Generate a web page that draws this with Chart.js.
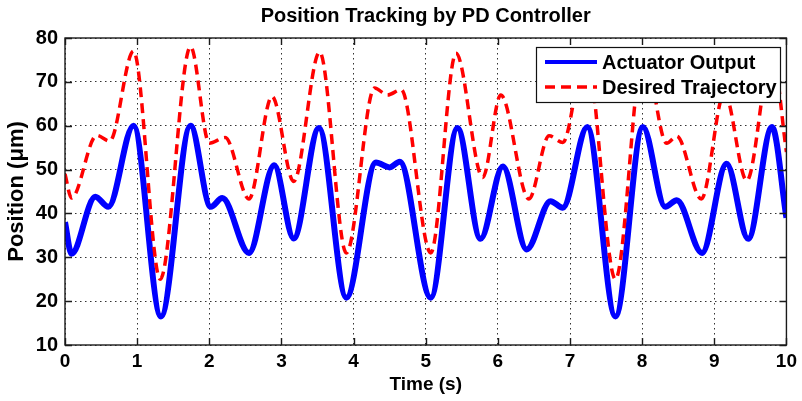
<!DOCTYPE html>
<html>
<head>
<meta charset="utf-8">
<title>Position Tracking by PD Controller</title>
<script src="https://cdn.jsdelivr.net/npm/chart.js@4.4.1/dist/chart.umd.min.js"></script>
<style>
  html, body { margin: 0; padding: 0; background: #fff; }
  #wrap { width: 802px; height: 401px; position: relative; }
</style>
</head>
<body>
<div id="wrap"><canvas id="trackChart"></canvas></div>
<script>
// ── Data ─────────────────────────────────────────────────────
const xTicks = [0, 1, 2, 3, 4, 5, 6, 7, 8, 9, 10];
const yTicks = [10, 20, 30, 40, 50, 60, 70, 80];

// Actuator output: turning points of the measured response
const actTime = [0.00, 0.09, 0.42, 0.60, 0.95, 1.33, 1.74, 2.02, 2.18, 2.55,
                 2.90, 3.17, 3.52, 3.90, 4.31, 4.50, 4.64, 5.07, 5.44, 5.76,
                 6.07, 6.40, 6.73, 6.90, 7.24, 7.63, 8.01, 8.32, 8.48, 8.83,
                 9.17, 9.47, 9.80, 10.00];
const actPos  = [38.0, 30.8, 43.8, 41.5, 60.0, 16.5, 60.0, 41.5, 43.5, 31.0,
                 51.0, 34.3, 59.5, 20.8, 51.6, 50.5, 51.8, 20.8, 59.5, 34.2,
                 50.7, 31.8, 42.8, 41.3, 59.7, 16.5, 59.7, 41.5, 43.0, 31.0,
                 51.3, 34.2, 59.7, 39.0];

// Desired trajectory: turning points of the reference signal
const desTime = [0.00, 0.09, 0.44, 0.62, 0.95, 1.32, 1.74, 2.00, 2.22, 2.55,
                 2.87, 3.17, 3.53, 3.90, 4.29, 4.47, 4.66, 5.07, 5.42, 5.79,
                 6.04, 6.43, 6.71, 6.90, 7.22, 7.63, 8.02, 8.34, 8.48, 8.82,
                 9.14, 9.45, 9.80, 10.00];
const desPos  = [49.0, 43.5, 57.8, 56.5, 77.0, 25.0, 78.0, 56.0, 57.3, 43.3,
                 66.7, 47.3, 76.8, 31.0, 68.6, 67.0, 68.2, 31.0, 76.5, 48.2,
                 67.0, 43.3, 57.7, 56.2, 77.0, 25.0, 77.0, 56.0, 57.6, 43.3,
                 67.5, 47.5, 76.5, 54.0];

const seriesLabels = ['Actuator Output', 'Desired Trajectory'];

// ── Helpers ──────────────────────────────────────────────────
function toPoints(xs, ys) {
    return xs.map((x, i) => ({ x: x, y: ys[i] }));
}

const FONT = '"Liberation Sans", Arial, Helvetica, sans-serif';

// Box frame, inward tick marks and the boxed legend (MATLAB style)
const matlabFrame = {
    id: 'matlabFrame',
    afterLayout(chart) {
        // centre the title over the axes, not the whole canvas
        const t = chart.titleBlock, a = chart.chartArea;
        if (t) { t.left = a.left; t.right = a.right; t.width = a.right - a.left; }
    },
    afterDraw(chart) {
        const { ctx, chartArea: a, scales } = chart;
        const tl = 7;
        ctx.save();
        ctx.strokeStyle = '#1a1a1a';
        ctx.lineWidth = 1.4;

        ctx.beginPath();
        xTicks.forEach(v => {
            const px = Math.round(scales.x.getPixelForValue(v)) + 0.5;
            ctx.moveTo(px, a.bottom); ctx.lineTo(px, a.bottom - tl);
            ctx.moveTo(px, a.top);    ctx.lineTo(px, a.top + tl);
        });
        yTicks.forEach(v => {
            const py = Math.round(scales.y.getPixelForValue(v)) + 0.5;
            ctx.moveTo(a.left, py);  ctx.lineTo(a.left + tl, py);
            ctx.moveTo(a.right, py); ctx.lineTo(a.right - tl, py);
        });
        ctx.stroke();
        ctx.strokeRect(a.left, a.top, a.right - a.left, a.bottom - a.top);

        // legend
        const lx = 536, ly = 47, lw = 244, lh = 55;
        ctx.fillStyle = '#fff';
        ctx.fillRect(lx, ly, lw, lh);
        ctx.lineWidth = 1.2;
        ctx.strokeStyle = '#111';
        ctx.strokeRect(lx + 0.5, ly + 0.5, lw, lh);

        const rows = [ly + 15, ly + 40];
        chart.data.datasets.forEach((ds, i) => {
            const y = rows[i];
            ctx.beginPath();
            ctx.strokeStyle = ds.borderColor;
            ctx.lineWidth = i === 0 ? 4 : 3.5;
            ctx.setLineDash(ds.borderDash || []);
            ctx.moveTo(545, y); ctx.lineTo(597, y);
            ctx.stroke();
            ctx.setLineDash([]);
            ctx.fillStyle = '#000';
            ctx.font = 'bold 20px ' + FONT;
            ctx.textBaseline = 'middle';
            ctx.textAlign = 'left';
            ctx.fillText(ds.label, 602, y + 1);
        });
        ctx.restore();
    }
};

// ── Chart ────────────────────────────────────────────────────
new Chart(document.getElementById('trackChart'), {
    type: 'line',
    data: {
        datasets: [{
            label: seriesLabels[0],
            data: toPoints(actTime, actPos),
            borderColor: '#0000ff',
            borderWidth: 6,
            pointRadius: 0,
            cubicInterpolationMode: 'monotone',
            order: 2,
        }, {
            label: seriesLabels[1],
            data: toPoints(desTime, desPos),
            borderColor: '#ff0000',
            borderWidth: 3.5,
            borderDash: [10, 6],
            pointRadius: 0,
            cubicInterpolationMode: 'monotone',
            order: 1,
        }],
    },
    options: {
        responsive: true,
        maintainAspectRatio: false,
        animation: false,
        layout: { padding: { top: 0, left: 0, right: 14, bottom: 0 } },
        plugins: {
            legend: { display: false },
            tooltip: { enabled: false },
            title: {
                display: true,
                text: 'Position Tracking by PD Controller',
                color: '#000',
                font: { family: FONT, size: 20, weight: 'bold' },
                padding: { top: 4, bottom: 10 },
            },
        },
        scales: {
            x: {
                type: 'linear',
                min: 0,
                max: 10,
                afterBuildTicks: s => { s.ticks = xTicks.map(v => ({ value: v })); },
                afterFit: s => { s.height = 56; },
                grid: { color: '#333', lineWidth: 1, drawTicks: false },
                border: { display: false, dash: [1.5, 3.5] },
                ticks: {
                    color: '#000',
                    padding: 5,
                    maxRotation: 0,
                    font: { family: FONT, size: 19, weight: 'bold' },
                },
                title: {
                    display: true,
                    text: 'Time (s)',
                    color: '#000',
                    font: { family: FONT, size: 19, weight: 'bold' },
                    padding: { top: 0, bottom: 5 },
                },
            },
            y: {
                min: 10,
                max: 80,
                afterBuildTicks: s => { s.ticks = yTicks.map(v => ({ value: v })); },
                afterFit: s => { s.width = 65; },
                grid: { color: '#333', lineWidth: 1, drawTicks: false },
                border: { display: false, dash: [1.5, 3.5] },
                ticks: {
                    color: '#000',
                    padding: 7,
                    font: { family: FONT, size: 20, weight: 'bold' },
                },
                title: {
                    display: true,
                    text: 'Position (\u03bcm)',
                    color: '#000',
                    font: { family: FONT, size: 22, weight: 'bold' },
                    padding: { top: 4, bottom: 0 },
                },
            },
        },
    },
    plugins: [matlabFrame],
});
</script>
</body>
</html>
